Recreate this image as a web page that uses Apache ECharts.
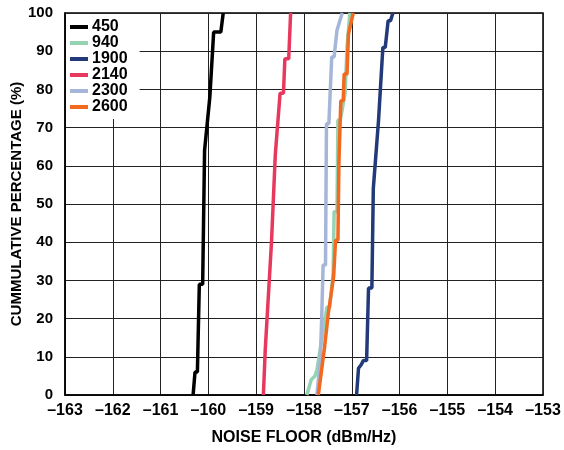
<!DOCTYPE html>
<html>
<head>
<meta charset="utf-8">
<script src="https://cdn.jsdelivr.net/npm/echarts@6/dist/echarts.min.js"></script>
<style>
  html, body { margin: 0; padding: 0; background: #fff; }
  #chart { width: 564px; height: 450px; }
</style>
</head>
<body>
<div id="chart"></div>
<script>
// legend names (MHz)
var freqs = ['450', '940', '1900', '2140', '2300', '2600'];

// noise floor (dBm/Hz) and cumulative percentage for each curve
var nf450 = [-160.32, -160.28, -160.23, -160.19, -160.12, -160.08, -160.04, -159.97, -159.93, -159.89, -159.74, -159.69];
var pct450 = [0, 6, 6, 29, 29, 64, 64, 78, 78, 95, 95, 100];

var nf940 = [-157.94, -157.85, -157.77, -157.73, -157.70, -157.52, -157.46, -157.39, -157.37, -157.31, -157.29, -157.24, -157.14, -157.10, -157.04];
var pct940 = [0, 4, 5, 6.5, 7, 23, 23, 32, 48, 48, 72, 72, 79, 91, 100];

var nf1900 = [-156.90, -156.86, -156.80, -156.76, -156.69, -156.65, -156.58, -156.55, -156.51, -156.44, -156.40, -156.35, -156.30, -156.24, -156.19, -156.14];
var pct1900 = [0, 7, 8, 9, 9, 28, 28, 54, 54, 72, 72, 91, 91, 98, 98, 100];

var nf2140 = [-158.85, -158.81, -158.77, -158.68, -158.64, -158.60, -158.56, -158.50, -158.43, -158.40, -158.32, -158.28];
var pct2140 = [0, 12, 12, 40, 40, 63, 63, 79, 79, 88, 88, 100];

var nf2300 = [-157.73, -157.66, -157.63, -157.60, -157.55, -157.53, -157.48, -157.42, -157.37, -157.31, -157.27, -157.20];
var pct2300 = [0, 9, 20, 34, 34, 71, 71, 88.5, 88.5, 95.5, 95.5, 100];

var nf2600 = [-157.70, -157.57, -157.55, -157.49, -157.45, -157.38, -157.35, -157.34, -157.29, -157.27, -157.24, -157.23, -157.18, -157.16, -157.10, -157.07, -157.03, -156.97];
var pct2600 = [0, 12.5, 12.5, 21.5, 21.5, 31, 31, 40.5, 40.5, 60.5, 60.5, 77, 77, 84, 84, 94.5, 94.5, 100];

var xTicks = [-163, -153];
var yTicks = [0, 100];

var curves = [[nf450, pct450], [nf940, pct940], [nf1900, pct1900], [nf2140, pct2140], [nf2300, pct2300], [nf2600, pct2600]];
var colors = ['#000000', '#95d3b2', '#22397a', '#e8385e', '#a5b6d8', '#f2691f'];
var font = 'Liberation Sans, Arial, sans-serif';

function pairs (xs, ys) {
  var out = [];
  for (var i = 0; i < xs.length; i++) {
    out.push([xs[i], ys[i]]);
  }
  return out;
}

var series = curves.map(function (c, i) {
  return {
    name: freqs[i],
    type: 'line',
    data: pairs(c[0], c[1]),
    showSymbol: false,
    symbol: 'none',
    animation: false,
    lineStyle: { color: colors[i], width: 3.5 },
    itemStyle: { color: colors[i] }
  };
});

var chart = echarts.init(document.getElementById('chart'));
chart.setOption({
  animation: false,
  grid: {
    left: 65,
    right: 21,
    top: 13,
    bottom: 55,
    outerBoundsMode: 'none',
    containLabel: false,
    show: true,
    borderColor: '#000',
    borderWidth: 1.5,
    backgroundColor: 'transparent'
  },
  legend: {
    data: freqs,
    orient: 'vertical',
    left: 66,
    top: 14,
    backgroundColor: '#fff',
    padding: [5, 12, 4, 4],
    icon: 'rect',
    itemWidth: 18,
    itemHeight: 4,
    itemGap: 0,
    textStyle: { fontFamily: font, fontWeight: 'bold', fontSize: 16, color: '#000', lineHeight: 16, padding: [0, 0, 0, -1] }
  },
  xAxis: {
    type: 'value',
    min: xTicks[0],
    max: xTicks[1],
    interval: 1,
    name: 'NOISE FLOOR (dBm/Hz)',
    nameLocation: 'middle',
    nameGap: 35,
    nameMoveOverlap: false,
    nameTextStyle: { fontFamily: font, fontWeight: 'bold', fontSize: 16, color: '#000' },
    axisLine: { show: true, lineStyle: { color: '#000', width: 1.5 } },
    axisTick: { show: false },
    axisLabel: {
      margin: 8,
      fontFamily: font,
      fontWeight: 'bold',
      fontSize: 16,
      color: '#000',
      formatter: function (v) { return String(v).replace('-', '\u2013'); }
    },
    splitLine: { show: true, lineStyle: { color: '#222', width: 1 } }
  },
  yAxis: {
    type: 'value',
    min: yTicks[0],
    max: yTicks[1],
    interval: 10,
    name: 'CUMMULATIVE PERCENTAGE (%)',
    nameLocation: 'middle',
    nameGap: 41,
    nameMoveOverlap: false,
    nameTextStyle: { fontFamily: font, fontWeight: 'bold', fontSize: 15, color: '#000' },
    axisLine: { show: true, lineStyle: { color: '#000', width: 1.5 } },
    axisTick: { show: false },
    axisLabel: { margin: 12, fontFamily: font, fontWeight: 'bold', fontSize: 15, color: '#000' },
    splitLine: { show: true, lineStyle: { color: '#222', width: 1 } }
  },
  series: series
});
</script>
</body>
</html>
